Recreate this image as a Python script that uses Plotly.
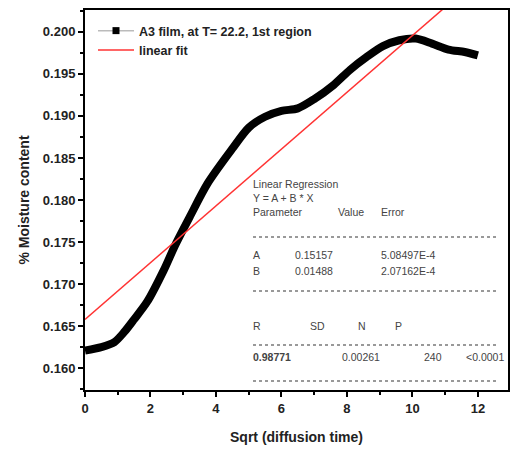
import plotly.graph_objects as go

# Data
x_data = [0.0, 0.5, 0.9, 1.2, 1.5, 1.9, 2.4, 2.75, 3.2, 3.75, 4.5, 5.0, 5.5, 6.0, 6.5, 7.0,
          7.6, 8.1, 8.6, 9.1, 9.6, 10.1, 10.6, 11.1, 11.6, 12.0]
y_data = [0.1621, 0.1625, 0.1631, 0.1643, 0.1658, 0.1679, 0.1716, 0.1746, 0.1780, 0.1820,
          0.1861, 0.1886, 0.1899, 0.1906, 0.1909, 0.1920, 0.1937, 0.1955, 0.1970, 0.1983,
          0.1990, 0.1992, 0.1986, 0.1979, 0.1976, 0.1972]
fit_x = [0.0, 12.9]
fit_intercept = 0.1658
fit_slope = 0.003376
fit_y = [fit_intercept + fit_slope * v for v in fit_x]

# Plot area in pixels
L, R, T, B = 85, 508, 10, 390
W, H = 510, 457


def px(x):
    return (x - L) / (R - L)


def py(y):
    return (B - y) / (B - T)


fig = go.Figure()
fig.add_trace(go.Scatter(x=x_data, y=y_data, mode="lines",
                         line=dict(color="black", width=8, shape="spline", smoothing=0.8),
                         showlegend=False))
fig.add_trace(go.Scatter(x=[None], y=[None], mode="lines+markers", name="A3 film, at T= 22.2, 1st region",
                         line=dict(color="#bbbbbb", width=1.5), marker=dict(symbol="square", size=7, color="black")))
fig.add_trace(go.Scatter(x=fit_x, y=fit_y, mode="lines", name="linear fit",
                         line=dict(color="#ff3333", width=1.5)))

font_tbl = dict(family="Liberation Sans, Arial", size=10.5, color="#444444")
ann = []


def t(text, x, y, bold=False):
    ann.append(dict(text=text, x=px(x), y=py(y), xref="paper", yref="paper", xanchor="left",
                    yanchor="middle", showarrow=False, font=dict(font_tbl, weight="bold" if bold else "normal")))


t("Linear Regression", 251, 184)
t("Y = A + B * X", 251, 198)
t("Parameter", 251, 212)
t("Value", 336, 212)
t("Error", 379, 212)
t("A", 251, 255)
t("0.15157", 293, 255)
t("5.08497E-4", 379, 255)
t("B", 251, 271)
t("0.01488", 293, 271)
t("2.07162E-4", 379, 271)
t("R", 251, 326)
t("SD", 308, 326)
t("N", 356, 326)
t("P", 393, 326)
t("0.98771", 251, 357, bold=True)
t("0.00261", 340, 357)
t("240", 422, 357)
t("<0.0001", 464, 357)

shapes = []
for yy in [237, 291, 345, 381]:
    shapes.append(dict(type="line", xref="paper", yref="paper", x0=px(253), x1=px(497), y0=py(yy), y1=py(yy),
                       line=dict(color="#999999", width=2, dash="dot")))

axis_common = dict(showline=True, linecolor="black", linewidth=2, mirror=True, ticks="outside",
                   ticklen=5, tickwidth=2, tickcolor="black", showgrid=False, zeroline=False,
                   automargin=False,
                   tickfont=dict(family="Liberation Sans, Arial", size=13, color="#222222", weight="bold"))

fig.update_layout(
    width=W, height=H,
    margin=dict(l=L, r=W - R, t=T, b=H - B),
    paper_bgcolor="white", plot_bgcolor="white",
    annotations=ann, shapes=shapes,
    legend=dict(x=px(93), y=py(16), xanchor="left", yanchor="top", bgcolor="rgba(0,0,0,0)",
                font=dict(family="Liberation Sans, Arial", size=12.5, color="#222222", weight="bold"),
                tracegroupgap=0, itemwidth=36),
    xaxis=dict(axis_common, range=[0, 12.92], dtick=2, tick0=0,
               minor=dict(dtick=1, ticks="outside", ticklen=3, tickwidth=2, tickcolor="black"),
               title=dict(text="Sqrt (diffusion time)", standoff=18,
                          font=dict(family="Liberation Sans, Arial", size=14, color="#222222", weight="bold"))),
    yaxis=dict(axis_common, range=[0.1574, 0.2026], dtick=0.005, tick0=0.16, tickformat=".3f",
               minor=dict(dtick=0.0025, ticks="outside", ticklen=3, tickwidth=2, tickcolor="black"),
               title=dict(text="% Moisture content", standoff=10,
                          font=dict(family="Liberation Sans, Arial", size=14, color="#222222", weight="bold"))),
)

fig.write_html("out.html", config={"displayModeBar": False},
               post_script="document.body.style.margin='0';document.body.style.overflow='hidden';")
